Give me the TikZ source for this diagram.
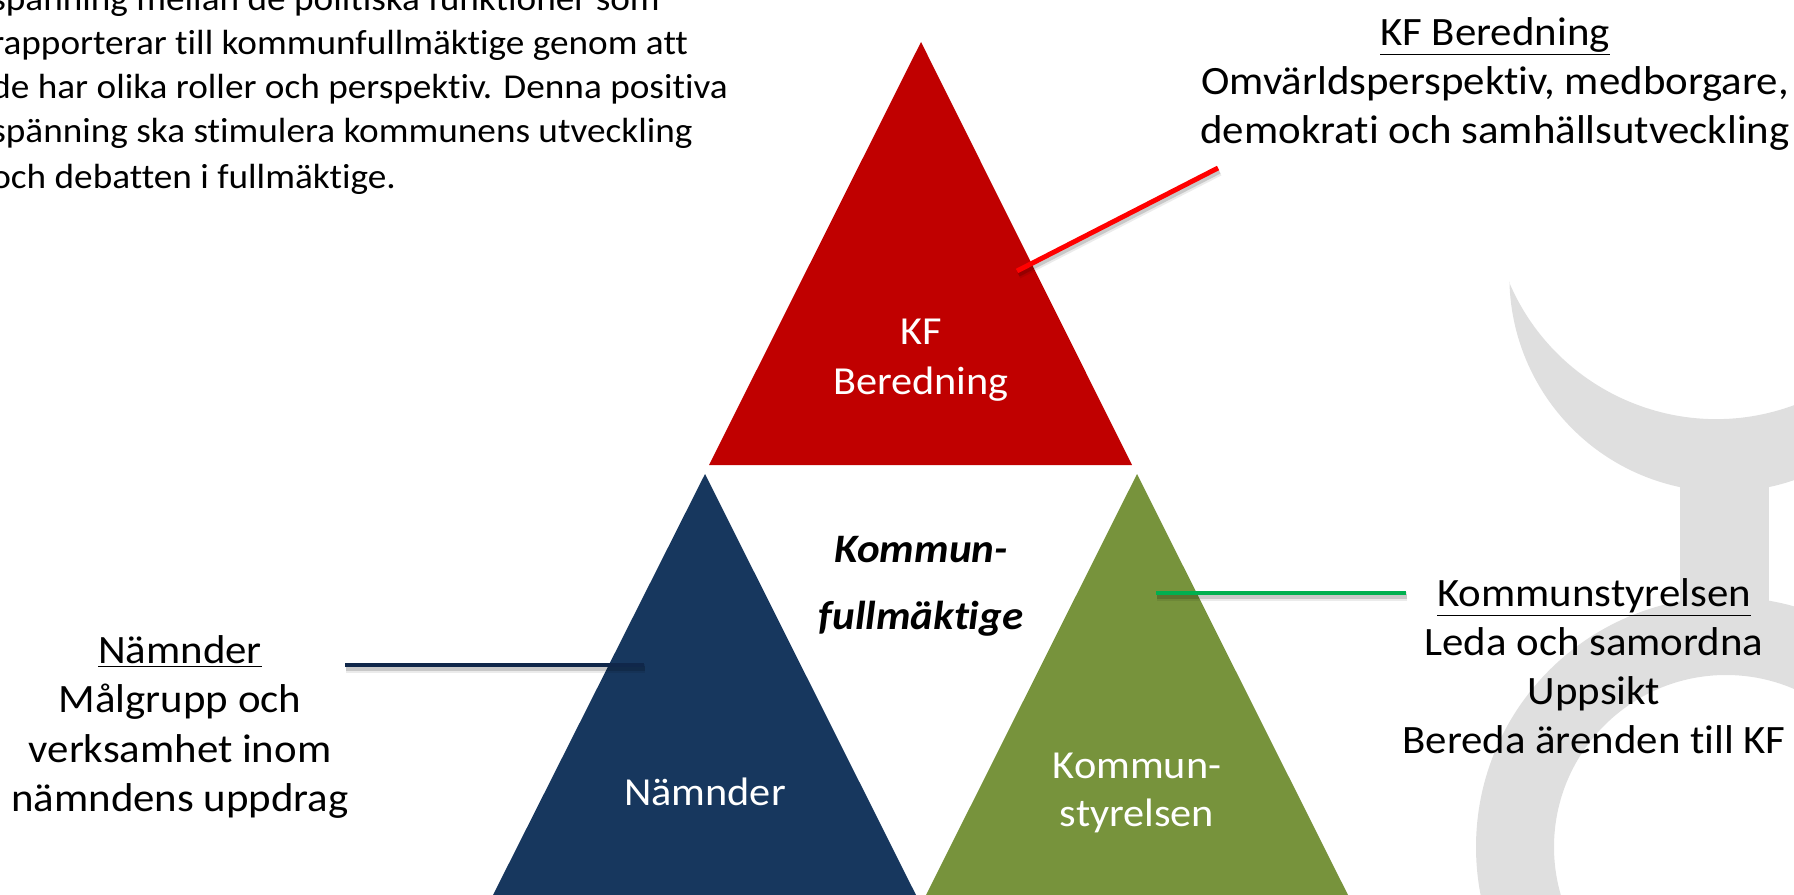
\documentclass[tikz,border=0pt]{standalone}
\usepackage{fontspec}
\usepackage{tikz}
\setmainfont[FakeStretch=1.065, Ligatures=NoCommon]{Carlito}
\definecolor{kfred}{HTML}{C00000}
\definecolor{namndblue}{HTML}{17375E}
\definecolor{ksgreen}{HTML}{77933C}
\definecolor{lineblue}{HTML}{10274A}
\definecolor{linegreen}{HTML}{00B050}
\definecolor{markgray}{HTML}{DFDFDF}
\tikzset{
  triangletext/.style={text=white, align=center, inner sep=0, font=\fontsize{22.6}{27}\selectfont},
  sidetext/.style={text=black, align=center, inner sep=0, font=\fontsize{22.9}{28}\selectfont},
  callout/.style={line width=2.8pt,
    preaction={draw=black, opacity=0.08, line width=5pt, transform canvas={xshift=0.8pt, yshift=-2pt}},
    preaction={draw=black, opacity=0.15, line width=3pt, transform canvas={xshift=0.8pt, yshift=-1.8pt}}}
}

\begin{document}
\begin{tikzpicture}[x=0.02cm, y=-0.02cm]
    \useasboundingbox (0,0) rectangle (1794,895);
    \clip (0,0) rectangle (1794,895);

    % Background mark
    \fill[markgray] (1509,282) arc [start angle=157, end angle=68, radius=225] -- (1800,478) arc [start angle=69.4, end angle=178.7, radius=215] -- cycle;
    \fill[markgray] (1680,470) rectangle (1769,620);
    \fill[markgray, even odd rule] (1726,847) circle [radius=250] (1726,847) circle [radius=172];

    % Triangles
    \fill[kfred] (921,42) -- (1132,465) -- (709,465) -- cycle;
    \fill[namndblue] (705,474) -- (916,895) -- (493,895) -- cycle;
    \fill[ksgreen] (1137,474) -- (1348,895) -- (926,895) -- cycle;

    % Text
    \node[triangletext] (kfinner) at (921,360) {KF\\[1.5pt]Beredning};
    \node[triangletext] (nminner) at (705,792) {Nämnder};
    \node[triangletext] (ksinner) at (1137,793) {Kommun-\\styrelsen};
    \node[align=center, inner sep=0, font=\fontsize{23}{38}\selectfont\bfseries\itshape] (center) at (921,586) {Kommun-\\fullmäktige};

    \node[sidetext] (kfside) at (1495,84) {\underline{KF Beredning}\\Omvärldsperspektiv, medborgare,\\demokrati och samhällsutveckling};
    \node[sidetext] (ksside) at (1594,666) {\underline{Kommunstyrelsen}\\Leda och samordna\\Uppsikt\\Bereda ärenden till KF};
    \node[sidetext] (nmside) at (180,727) {\underline{Nämnder}\\Målgrupp och\\verksamhet inom\\nämndens uppdrag};

    \node[anchor=north west, align=left, inner sep=0, font=\fontsize{19.9}{25}\selectfont] (intro) at (-9,-14) {spänning mellan de politiska funktioner som\\rapporterar till kommunfullmäktige genom att\\de har olika roller och perspektiv. Denna positiva\\spänning ska stimulera kommunens utveckling\\[1.5pt]och debatten i fullmäktige.};

    % Lines
    \coordinate (kfout) at (1218,168);
    \coordinate (kfin) at (1017,271);
    \coordinate (nmout) at (345,665);
    \coordinate (nmin) at (644,665);
    \coordinate (ksout) at (1406,593);
    \coordinate (ksin) at (1156,593);
    \draw[callout, red] (kfout) -- (kfin);
    \draw[callout, lineblue] (nmout) -- (nmin);
    \draw[callout, linegreen] (ksout) -- (ksin);
  \end{tikzpicture}
\end{document}
